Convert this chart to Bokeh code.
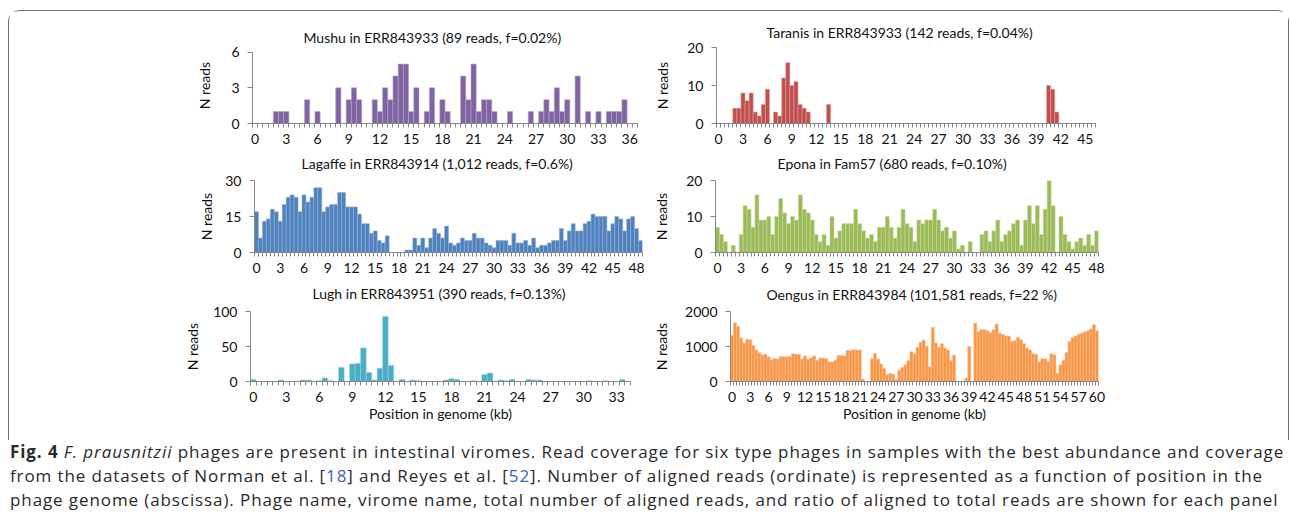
from bokeh.plotting import figure
from bokeh.models import Range1d, FixedTicker, Div, Spacer
from bokeh.layouts import column, row
from bokeh.embed import file_html
from bokeh.resources import INLINE

BIN_KB = 0.5

# ---------------- data (reads per 0.5 kb bin) ----------------
mushu_reads = [0, 0, 0, 0, 1, 1, 1, 0, 0, 0,
               2, 0, 1, 0, 0, 0, 3, 0, 2, 3,
               2, 0, 0, 2, 1, 3, 2, 4, 5, 5,
               1, 3, 0, 1, 3, 0, 2, 1, 0, 0,
               4, 2, 5, 1, 2, 2, 1, 0, 0, 1,
               0, 0, 0, 1, 0, 1, 2, 1, 3, 1,
               2, 0, 4, 0, 1, 0, 1, 0, 1, 1,
               1, 2, 0, 0]

taranis_reads = [0, 0, 0, 0, 4, 4, 8, 6, 8, 3,
                 2, 5, 9, 0, 3, 2, 12, 16, 10, 11,
                 5, 4, 3, 0, 0, 0, 0, 5, 0, 0,
                 0, 0, 0, 0, 0, 0, 0, 0, 0, 0,
                 0, 0, 0, 0, 0, 0, 0, 0, 0, 0,
                 0, 0, 0, 0, 0, 0, 0, 0, 0, 0,
                 0, 0, 0, 0, 0, 0, 0, 0, 0, 0,
                 0, 0, 0, 0, 0, 0, 0, 0, 0, 0,
                 0, 10, 9, 3, 0, 0, 0, 0, 0, 0,
                 0, 0, 0]

lagaffe_reads = [17, 6, 13, 14, 18, 17, 13, 20, 23, 24,
                 23, 17, 24, 21, 23, 27, 27, 17, 19, 20,
                 20, 25, 25, 19, 19, 19, 16, 12, 12, 8,
                 9, 5, 4, 7, 0, 0, 0, 0, 1, 1,
                 6, 3, 6, 2, 6, 10, 8, 6, 11, 4,
                 3, 4, 6, 5, 5, 8, 6, 6, 4, 3,
                 2, 5, 5, 5, 3, 8, 4, 4, 5, 3,
                 6, 2, 3, 3, 4, 5, 5, 10, 5, 9,
                 12, 9, 9, 12, 13, 16, 15, 15, 15, 9,
                 12, 15, 14, 9, 14, 15, 10, 5]

epona_reads = [7, 5, 3, 0, 2, 0, 5, 13, 12, 7,
               16, 9, 9, 10, 5, 10, 15, 11, 8, 10,
               9, 16, 12, 11, 9, 5, 3, 5, 2, 10,
               4, 6, 8, 8, 8, 12, 8, 6, 4, 5,
               3, 7, 7, 10, 7, 4, 7, 12, 8, 7,
               3, 9, 8, 9, 9, 12, 9, 6, 7, 4,
               6, 1, 2, 0, 3, 0, 0, 5, 6, 3,
               6, 9, 3, 5, 6, 8, 9, 2, 9, 13,
               8, 13, 5, 12, 20, 13, 0, 10, 5, 3,
               1, 3, 4, 2, 5, 2, 6]

lugh_reads = [3, 0, 0, 0, 0, 2, 0, 0, 0, 2,
              2, 0, 1, 5, 1, 0, 20, 0, 25, 26,
              48, 13, 2, 19, 93, 23, 0, 3, 0, 2,
              1, 0, 0, 0, 0, 2, 4, 3, 0, 0,
              1, 0, 10, 12, 0, 2, 1, 3, 0, 0,
              3, 2, 2, 0, 0, 0, 0, 0, 0, 0,
              0, 1, 0, 0, 1, 0, 0, 3, 0]

oengus_reads = [1320, 1680, 1580, 1240, 1100, 1210, 1190, 1030, 900, 830,
                760, 780, 710, 620, 660, 640, 710, 710, 710, 710,
                790, 780, 780, 640, 730, 640, 680, 730, 610, 670,
                670, 660, 560, 560, 610, 740, 750, 730, 890, 890,
                910, 900, 900, 70, 0, 0, 650, 800, 640, 500,
                370, 190, 230, 210, 60, 320, 400, 480, 600, 850,
                790, 980, 1120, 1180, 1010, 420, 1540, 1100, 980, 1080,
                960, 900, 600, 750, 0, 0, 0, 100, 1000, 0,
                1670, 1420, 1480, 1480, 1450, 1400, 1480, 1640, 1380, 1340,
                1300, 1300, 1140, 1170, 1260, 1190, 1080, 960, 900, 790,
                780, 560, 650, 650, 580, 790, 760, 230, 480, 600,
                830, 1150, 1250, 1300, 1350, 1380, 1420, 1450, 1500, 1620,
                1450]

titles = ["Mushu in ERR843933 (89 reads, f=0.02%)",
          "Taranis in ERR843933 (142 reads, f=0.04%)",
          "Lagaffe in ERR843914 (1,012 reads, f=0.6%)",
          "Epona in Fam57 (680 reads, f=0.10%)",
          "Lugh in ERR843951 (390 reads, f=0.13%)",
          "Oengus in ERR843984 (101,581 reads, f=22 %)"]

y_ticks = {"mushu": [0, 3, 6], "taranis": [0, 10, 20], "lagaffe": [0, 15, 30],
           "epona": [0, 10, 20], "lugh": [0, 50, 100], "oengus": [0, 1000, 2000]}

x_label = "Position in genome (kb)"
y_label = "N reads"

FONT = "Lato"
FS = "14px"
AXIS_GRAY = "#868686"
TEXT = "#111111"


def panel(title, reads, yticks, fill, edge, w, h, mbl, mbr, mbt, mbb,
          t_valign, t_standoff, t_offset, ylab_standoff, y_headroom=1.0, xlab=None):
    n = len(reads)
    xs = [i * BIN_KB for i in range(n) if reads[i] > 0]
    ys = [reads[i] for i in range(n) if reads[i] > 0]
    x0 = -BIN_KB / 2
    p = figure(width=w, height=h, output_backend="svg", toolbar_location=None,
               x_range=Range1d(x0, n * BIN_KB - BIN_KB / 2),
               y_range=Range1d(0, yticks[-1] * y_headroom),
               min_border_left=mbl, min_border_right=mbr,
               min_border_top=mbt, min_border_bottom=mbb)
    p.vbar(x=xs, top=ys, width=BIN_KB, bottom=0, fill_color=fill,
           line_color=edge, line_width=0.6)
    p.outline_line_color = None
    p.xgrid.visible = False
    p.ygrid.visible = False
    p.background_fill_color = "white"
    p.border_fill_color = "white"

    last = (n - 1) * BIN_KB
    major = [v for v in range(0, int(last) + 1, 3)]
    minor = [x0 + k * BIN_KB for k in range(n + 1)]
    p.xaxis.ticker = FixedTicker(ticks=major, minor_ticks=minor)
    p.xaxis.major_tick_line_color = None
    p.xaxis.major_tick_out = 4
    p.xaxis.major_tick_in = 0
    p.xaxis.minor_tick_out = 4
    p.xaxis.minor_tick_in = 0
    p.xaxis.minor_tick_line_color = AXIS_GRAY
    p.xaxis.axis_line_color = AXIS_GRAY
    p.xaxis.major_label_standoff = 6
    p.xaxis.major_label_text_font = FONT
    p.xaxis.major_label_text_font_size = FS
    p.xaxis.major_label_text_color = TEXT
    if xlab:
        p.xaxis.axis_label = xlab
        p.xaxis.axis_label_text_font = FONT
        p.xaxis.axis_label_text_font_size = FS
        p.xaxis.axis_label_text_font_style = "normal"
        p.xaxis.axis_label_text_color = TEXT
        p.xaxis.axis_label_standoff = 0

    p.yaxis.ticker = FixedTicker(ticks=yticks)
    p.yaxis.bounds = (yticks[0], yticks[-1])
    p.yaxis.minor_tick_line_color = None
    p.yaxis.major_tick_out = 5
    p.yaxis.major_tick_in = 0
    p.yaxis.major_tick_line_color = AXIS_GRAY
    p.yaxis.axis_line_color = AXIS_GRAY
    p.yaxis.major_label_standoff = 8
    p.yaxis.major_label_text_font = FONT
    p.yaxis.major_label_text_font_size = FS
    p.yaxis.major_label_text_color = TEXT
    p.yaxis.axis_label = y_label
    p.yaxis.axis_label_text_font = FONT
    p.yaxis.axis_label_text_font_size = FS
    p.yaxis.axis_label_text_font_style = "normal"
    p.yaxis.axis_label_text_color = TEXT
    p.yaxis.axis_label_standoff = ylab_standoff

    p.title.text = title
    p.title.align = "left"
    p.title.offset = t_offset
    p.title.vertical_align = t_valign
    p.title.standoff = t_standoff
    p.title.text_font = FONT
    p.title.text_font_size = FS
    p.title.text_font_style = "normal"
    p.title.text_color = TEXT
    return p


LW, RW = 641, 638
# row 1 (y 11..146): common frame 47..123
fM = panel(titles[0], mushu_reads, y_ticks["mushu"], "#8064A2", "#B6A6CB",
           LW, 135, 243, 13, 36, 23, "bottom", 3, 51, 15, y_headroom=1.066)
fT = panel(titles[1], taranis_reads, y_ticks["taranis"], "#C0504D", "#DC9A98",
           RW, 135, 66, 193, 36, 23, "bottom", 13, 50, 13)
# row 2 (y 146..275): common frame 180..252
fL = panel(titles[2], lagaffe_reads, y_ticks["lagaffe"], "#4F81BD", "#93B1D8",
           LW, 129, 245, 8, 34, 23, "top", 13, 47, 7)
fE = panel(titles[3], epona_reads, y_ticks["epona"], "#9BBB59", "#C4D79B",
           RW, 129, 65, 190, 34, 23, "top", 13, 62, 13)
# row 3 (y 275..425): common frame 311..381
fLu = panel(titles[4], lugh_reads, y_ticks["lugh"], "#4BACC6", "#93CDDD",
            LW, 150, 241, 20, 36, 44, "top", 15, 62, 9, xlab=x_label)
fO = panel(titles[5], oengus_reads, y_ticks["oengus"], "#F79646", "#FAC090",
           RW, 150, 67, 190, 36, 44, "top", 13, 36, 12, xlab=x_label)

charts = column(row(fM, fT), row(fL, fE), row(fLu, fO), Spacer(height=15),
                styles={"border": "1px solid #6f6f6f", "border-bottom": "none",
                        "border-radius": "12px 12px 0 0"})

caption_html = (
    '<div style="font-family:\'Open Sans\'; font-size:17px; line-height:24px; '
    'letter-spacing:0.9px; color:#2a2a2a; white-space:nowrap; padding-left:2px;">'
    '<b>Fig. 4</b> <i>F. prausnitzii</i> phages are present in intestinal viromes. '
    'Read coverage for six type phages in samples with the best abundance and coverage<br>'
    'from the datasets of Norman et al. [<span style="color:#3c5fbf">18</span>] and '
    'Reyes et al. [<span style="color:#3c5fbf">52</span>]. Number of aligned reads '
    '(ordinate) is represented as a function of position in the<br>'
    'phage genome (abscissa). Phage name, virome name, total number of aligned reads, '
    'and ratio of aligned to total reads are shown for each panel</div>'
)
caption = Div(text=caption_html, width=1281, height=72, margin=(0, 0, 0, 0))

layout = column(Spacer(height=10),
                row(Spacer(width=8), column(charts, caption)))

open("out.html", "w").write(file_html(layout, INLINE))
